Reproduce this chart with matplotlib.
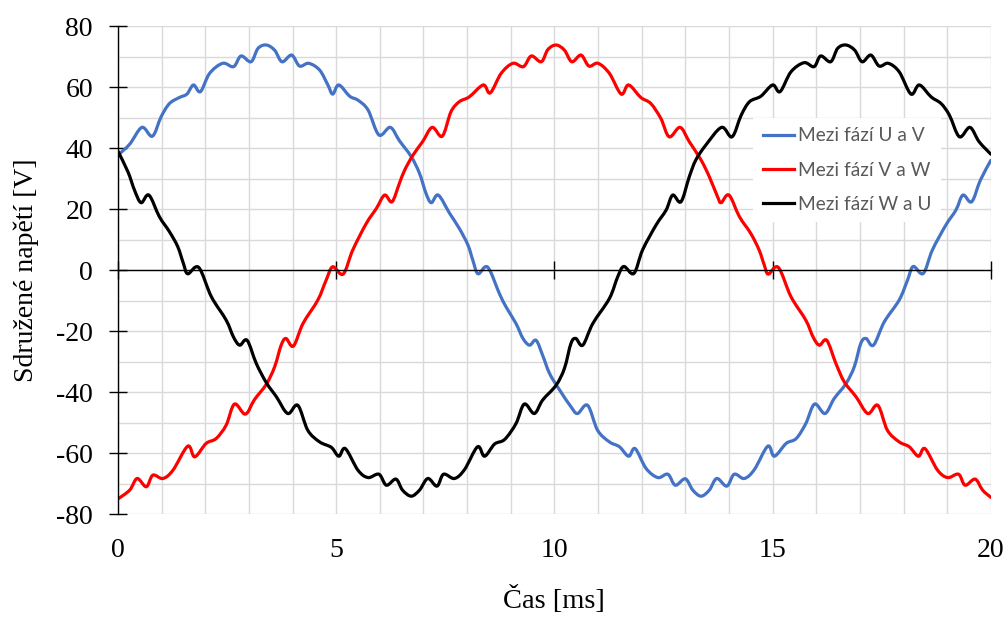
import matplotlib
matplotlib.use("Agg")
import matplotlib.pyplot as plt
import numpy as np
from matplotlib.path import Path
from matplotlib.patches import PathPatch
from matplotlib.lines import Line2D
from matplotlib.ticker import MultipleLocator

plt.rcParams["axes.unicode_minus"] = False

# ---- data (time in ms, voltage in V) ----
t_uv = [0.0, 0.27, 0.55, 0.79, 0.99, 1.18, 1.41, 1.58, 1.73, 1.89, 2.10, 2.40, 2.65, 2.82, 3.05,
        3.21, 3.40, 3.59, 3.76, 3.98, 4.16, 4.37, 4.62, 4.81, 4.92, 5.06, 5.31, 5.50, 5.73, 5.98,
        6.24, 6.45, 6.72, 6.91, 7.06, 7.18, 7.34, 7.60, 7.82, 8.02, 8.13, 8.25, 8.47, 8.74, 8.89,
        9.12, 9.28, 9.43, 9.58, 9.73, 9.89, 10.12, 10.38, 10.53, 10.76, 10.99, 11.26, 11.49, 11.70,
        11.85, 12.10, 12.37, 12.60, 12.77, 13.00, 13.17, 13.36, 13.55, 13.72, 13.95, 14.12, 14.35,
        14.58, 14.89, 15.04, 15.31, 15.54, 15.76, 15.96, 16.20, 16.41, 16.68, 16.87, 17.02, 17.14,
        17.31, 17.56, 17.90, 18.09, 18.22, 18.45, 18.66, 18.97, 19.20, 19.36, 19.56, 19.76, 20.0]
u_uv = [37.7, 41.3, 46.8, 43.9, 50.3, 54.6, 56.6, 57.7, 60.7, 58.5, 64.5, 67.8, 66.7, 70.2, 68.3,
        72.7, 73.8, 72.1, 68.3, 70.5, 66.9, 67.8, 65.6, 60.7, 57.7, 60.7, 57.0, 55.7, 52.5, 44.3,
        46.8, 42.4, 37.2, 31.7, 25.1, 22.1, 24.6, 18.6, 13.7, 8.2, 3.3, -1.2, 1.0, -7.7, -12.0,
        -17.5, -22.4, -24.6, -23.0, -27.9, -33.9, -39.3, -44.8, -47.0, -44.3, -52.5, -56.3, -57.9, -61.0,
        -58.5, -65.0, -68.0, -66.9, -70.5, -68.4, -72.1, -74.1, -72.1, -68.3, -70.8, -66.9, -68.3,
        -65.4, -57.7, -61.0, -56.8, -55.2, -50.3, -43.9, -47.0, -42.1, -37.2, -31.7, -24.0, -22.4,
        -24.6, -16.9, -9.8, -3.3, 1.2, -1.1, 6.6, 14.8, 19.7, 24.6, 22.4, 29.5, 36.0]

t_vw = [0.0, 0.27, 0.44, 0.65, 0.80, 1.03, 1.26, 1.60, 1.76, 2.02, 2.25, 2.48, 2.67, 2.92, 3.13,
        3.40, 3.59, 3.74, 3.85, 4.02, 4.24, 4.58, 4.77, 4.92, 5.16, 5.38, 5.69, 5.92, 6.11, 6.28,
        6.45, 6.57, 6.76, 6.98, 7.20, 7.43, 7.63, 7.82, 8.05, 8.37, 8.53, 8.78, 9.05, 9.29, 9.47,
        9.70, 9.85, 10.04, 10.23, 10.40, 10.61, 10.79, 11.00, 11.26, 11.53, 11.70, 11.98, 12.21,
        12.44, 12.63, 12.88, 13.09, 13.36, 13.55, 13.74, 13.82, 14.00, 14.24, 14.50, 14.69, 14.81,
        14.90, 15.13, 15.42, 15.76, 15.93, 16.07, 16.24, 16.45, 16.64, 16.91, 17.18, 17.41, 17.63,
        17.90, 18.13, 18.34, 18.49, 18.78, 19.01, 19.26, 19.41, 19.64, 19.81, 20.0]
u_vw = [-75.0, -72.1, -68.3, -71.0, -67.2, -68.3, -65.6, -57.7, -61.2, -56.8, -55.2, -50.8, -43.9, -47.2, -42.4,
        -37.4, -31.7, -24.6, -22.4, -24.9, -17.5, -9.8, -3.3, 1.1, -1.3, 6.6, 15.3, 20.2, 24.6, 22.4,
        28.5, 32.8, 37.7, 42.1, 46.8, 43.9, 51.9, 55.2, 56.8, 60.7, 58.1, 64.5, 67.8, 66.7, 70.2,
        68.3, 72.3, 73.8, 72.1, 68.3, 70.5, 66.9, 67.8, 64.5, 57.7, 60.7, 56.6, 54.6,
        49.7, 43.7, 46.8, 42.1, 36.1, 30.6, 24.0, 22.1, 24.6, 17.5, 12.0, 6.6, 1.6,
        -1.3, 0.9, -8.7, -16.4, -22.0, -24.6, -23.0, -30.6, -36.6, -41.5, -47.0, -44.3, -52.5,
        -56.3, -57.9, -61.0, -58.5, -65.6, -68.0, -66.9, -70.5, -68.5, -72.1, -74.5]

t_wu = [0.0, 0.23, 0.38, 0.53, 0.71, 0.95, 1.18, 1.37, 1.50, 1.60, 1.85, 2.14, 2.48, 2.65, 2.79,
        2.96, 3.17, 3.40, 3.63, 3.89, 4.12, 4.35, 4.62, 4.89, 5.06, 5.21, 5.50, 5.73, 5.98, 6.15,
        6.37, 6.52, 6.72, 6.91, 7.10, 7.31, 7.46, 7.71, 7.94, 8.24, 8.40, 8.63, 8.86, 9.12, 9.31,
        9.54, 9.73, 10.04, 10.23, 10.38, 10.49, 10.65, 10.88, 11.26, 11.45, 11.59, 11.82, 12.02,
        12.33, 12.56, 12.71, 12.90, 13.09, 13.24, 13.47, 13.83, 14.07, 14.28, 14.47, 14.73, 15.00,
        15.17, 15.42, 15.72, 15.95, 16.10, 16.33, 16.49, 16.68, 16.88, 17.05, 17.25, 17.44, 17.65,
        17.90, 18.17, 18.36, 18.63, 18.86, 19.05, 19.28, 19.52, 19.73, 20.0]
u_wu = [39.0, 32.2, 26.2, 22.1, 24.6, 17.5, 12.6, 7.7, 2.2, -1.2, 0.9, -8.7, -16.4, -22.0, -24.6,
        -23.0, -30.6, -36.9, -41.5, -47.0, -44.3, -52.5, -56.3, -58.1, -61.0, -58.5, -65.6, -68.0, -66.9, -70.5,
        -68.5, -72.1, -74.1, -72.1, -68.3, -70.8, -66.9, -68.3, -65.4, -57.9, -61.0, -57.0, -55.5, -50.3, -43.9,
        -47.0, -42.6, -37.7, -32.2, -24.0, -22.4, -24.6, -17.5, -9.3, -2.2, 1.2, -1.1, 6.6,
        14.8, 19.7, 24.6, 22.4, 30.6, 36.1, 41.0, 46.8, 43.7, 50.8, 55.2, 57.0, 60.7,
        58.5, 65.0, 68.0, 66.7, 70.2, 68.3, 72.7, 73.8, 72.1, 68.3, 70.5, 66.9, 67.8,
        65.0, 57.7, 60.7, 56.8, 54.6, 50.8, 43.7, 46.8, 42.1, 38.0]

labels = ["Mezi fází U a V", "Mezi fází V a W", "Mezi fází W a U"]
colors = ["#4472C4", "#FF0000", "#000000"]
x_ticks = [0, 5, 10, 15, 20]
y_ticks = [-80, -60, -40, -20, 0, 20, 40, 60, 80]


def smooth_path(xs, ys):
    """Excel-like smoothed line: cubic Bezier segments through the points."""
    p = np.column_stack([xs, ys]).astype(float)
    n = len(p)
    verts = [p[0]]
    codes = [Path.MOVETO]
    for i in range(n - 1):
        p0 = p[i - 1] if i > 0 else p[i]
        p1 = p[i]
        p2 = p[i + 1]
        p3 = p[i + 2] if i + 2 < n else p[i + 1]
        c1 = p1 + (p2 - p0) / 6.0
        c2 = p2 - (p3 - p1) / 6.0
        verts += [c1, c2, p2]
        codes += [Path.CURVE4] * 3
    return Path(verts, codes)


fig = plt.figure(figsize=(10.08, 6.21), dpi=100)
ax = fig.add_axes([0.117, 0.172, 0.866, 0.786])

serif = ["Liberation Serif", "DejaVu Serif"]

for xs, ys, c in zip([t_uv, t_vw, t_wu], [u_uv, u_vw, u_wu], colors):
    patch = PathPatch(smooth_path(xs, ys), facecolor="none", edgecolor=c, lw=2.3,
                      capstyle="round", joinstyle="round", transform=ax.transData, zorder=3)
    ax.add_patch(patch)

ax.set_xlim(0, 20)
ax.set_ylim(-80, 80)
ax.xaxis.set_major_locator(MultipleLocator(5))
ax.xaxis.set_minor_locator(MultipleLocator(1))
ax.set_yticks(y_ticks)
ax.yaxis.set_minor_locator(MultipleLocator(10))

ax.grid(which="both", color="#d9d9d9", lw=1.0, zorder=0)
ax.set_axisbelow(True)

for s in ["top", "right"]:
    ax.spines[s].set_visible(False)
ax.spines["bottom"].set_position(("data", 0))
ax.spines["bottom"].set_linewidth(1.0)
ax.spines["left"].set_linewidth(1.0)
ax.spines["bottom"].set_zorder(4)
ax.spines["left"].set_zorder(4)

ax.tick_params(axis="x", which="major", direction="inout", length=13, width=1.0,
               labelbottom=False)
ax.tick_params(axis="both", which="minor", length=0)
ax.tick_params(axis="y", which="major", direction="inout", length=13, width=1.0,
               pad=11.5, labelsize=20)
for lab in ax.get_yticklabels():
    lab.set_fontfamily(serif)
ax.set_ylabel("Sdružené napětí [V]", fontsize=20, fontfamily=serif, labelpad=12)

sec = ax.secondary_xaxis("bottom")
sec.set_xticks(x_ticks)
sec.spines["bottom"].set_visible(False)
sec.tick_params(length=0, pad=17, labelsize=20)
for lab in sec.get_xticklabels():
    lab.set_fontfamily(serif)
sec.set_xlabel("Čas [ms]", fontsize=20.5, fontfamily=serif, labelpad=17)

handles = [Line2D([], [], color=c, lw=2.3) for c in colors]
leg = ax.legend(handles, labels, loc="upper left", bbox_to_anchor=(0.717, 0.832),
                frameon=True, fancybox=False, edgecolor="none", facecolor="white",
                framealpha=1.0, handlelength=1.6, handletextpad=0.21, labelspacing=0.9,
                borderpad=0.5,
                prop={"family": ["Lato", "DejaVu Sans"], "size": 13.8})
for txt in leg.get_texts():
    txt.set_color("#595959")
leg.set_zorder(5)

fig.savefig("out.png", dpi=100)
